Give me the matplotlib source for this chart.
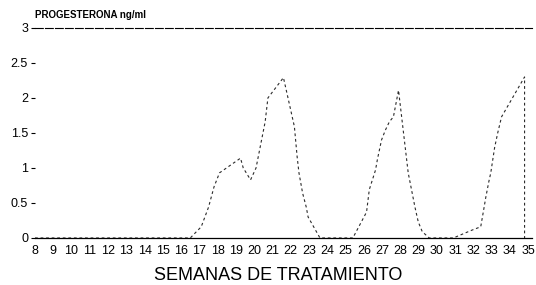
import matplotlib.pyplot as plt

# semanas de tratamiento y progesterona (ng/ml)
semanas = [8, 10, 12, 14, 16, 16.5, 17.1, 17.5, 17.8, 18.1, 19.25, 19.4, 19.8,
           20.1, 20.6, 20.75, 21.6, 21.85, 22.2, 22.35, 22.45, 22.65, 22.85,
           22.95, 23.6, 24.5, 25.4, 26.15, 26.3, 26.64, 26.75, 26.97, 27.18,
           27.4, 27.62, 27.9, 28.43, 28.8, 28.98, 29.2, 29.58, 30.2, 30.9,
           31.9, 32.4, 32.56, 32.67, 32.84, 32.95, 33.16, 33.33, 33.54, 34.8,
           34.8]
progesterona = [0, 0, 0, 0, 0, 0, 0.16, 0.44, 0.73, 0.93, 1.14, 1.0, 0.83,
                1.0, 1.66, 2.0, 2.29, 2.0, 1.59, 1.16, 0.93, 0.64, 0.44,
                0.3, 0, 0, 0, 0.37, 0.69, 0.97, 1.13, 1.4, 1.54,
                1.66, 1.73, 2.11, 0.93, 0.44, 0.23, 0.09, 0, 0, 0,
                0.11, 0.16, 0.4, 0.57, 0.8, 0.93, 1.29, 1.5, 1.73, 2.3,
                0]

xticks = list(range(8, 36))
yticks = [0, 0.5, 1, 1.5, 2, 2.5, 3]
ylabels = ['0', '0.5', '1', '1.5', '2', '2.5', '3']

plt.rcParams['font.family'] = ['Liberation Sans', 'DejaVu Sans']

fig = plt.figure(figsize=(5.36, 2.85), dpi=100)
ax = fig.add_axes([0.0653, 0.165, 0.927, 0.737])

ax.plot(semanas, progesterona, color='#2a2a2a', lw=0.8, dashes=(2.5, 2.5))

ax.set_xlim(8, 35.2)
ax.set_ylim(0, 3)

ax.spines['left'].set_visible(False)
ax.spines['right'].set_visible(False)
ax.spines['top'].set_linestyle((0, (7, 2)))
ax.spines['top'].set_linewidth(0.8)
ax.spines['bottom'].set_linewidth(0.9)

ax.set_xticks(xticks)
ax.set_xticklabels([str(w) for w in xticks])
ax.tick_params(axis='x', length=0, pad=5, labelsize=9)
ax.set_yticks(yticks)
ax.set_yticklabels(ylabels)
ax.tick_params(axis='y', length=3, width=0.8, pad=2, labelsize=9)

ax.set_title('PROGESTERONA ng/ml', loc='left', fontsize=7, fontweight='bold', pad=7)
ax.set_xlabel('SEMANAS DE TRATAMIENTO', fontsize=13)
ax.xaxis.set_label_coords(0.49, -0.14)

fig.savefig('out.png', dpi=100)
